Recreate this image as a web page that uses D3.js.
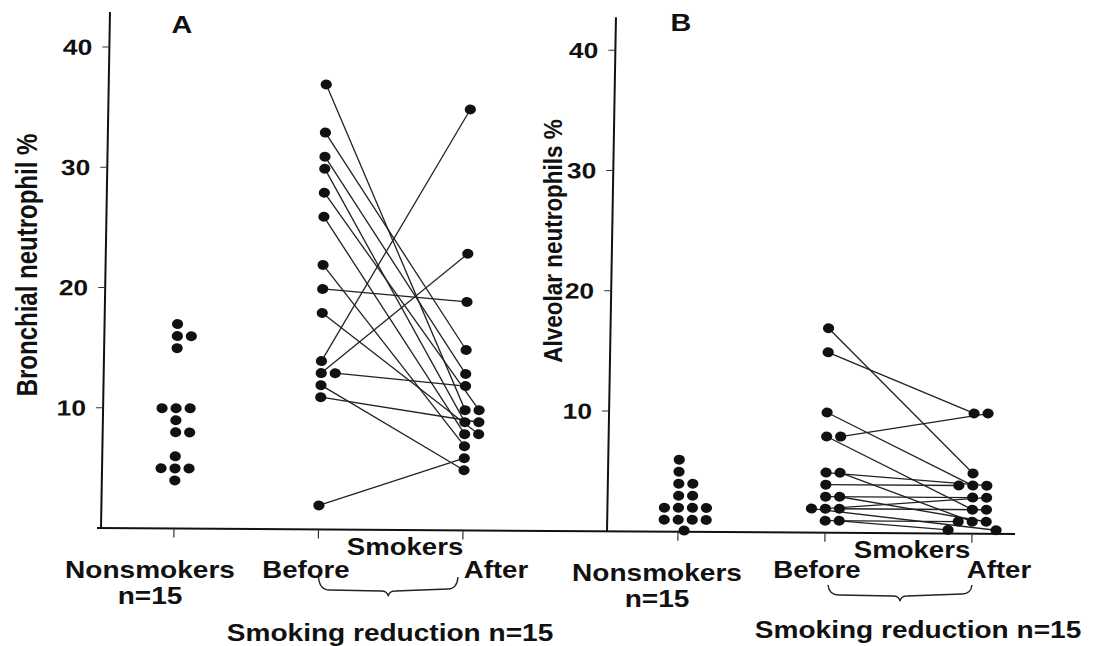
<!DOCTYPE html>
<html><head><meta charset="utf-8">
<script src="https://cdn.jsdelivr.net/npm/d3@7"></script>
<style>
body{margin:0;background:#fff}
text{font-family:"Liberation Sans",Arial,Helvetica,sans-serif;font-weight:bold;fill:#111}
</style>
</head><body>
<svg id="chart" width="1094" height="646"></svg>
<script>
// ---------------- data ----------------
const yTicks = [10, 20, 30, 40];
const groups = ["Nonsmokers", "Before", "After"];
// Panel A: bronchial neutrophil %
const nonsmokersA = [17, 16, 16, 15, 10, 10, 10, 9, 8, 8, 6, 5, 5, 5, 4];
const beforeA = [37, 33, 31, 30, 28, 26, 22, 20, 18, 14, 13, 13, 12, 11, 2];
const afterA  = [10, 15, 13, 9, 10, 8, 7, 19, 8, 35, 23, 12, 5, 9, 6];
// Panel B: alveolar neutrophils %
const nonsmokersB = [6, 5, 4, 4, 3, 3, 2, 2, 2, 2, 1, 1, 1, 1, 0.1];
const beforeB = [17, 15, 10, 8, 8, 5, 5, 4, 3, 3, 2, 2, 2, 1, 1];
const afterB  = [5, 10, 4, 2, 10, 4, 1, 4, 3, 1, 3, 2, 0.3, 1, 0.3];

const panelLetters = ["A", "B"];
const yTitles = ["Bronchial neutrophil %", "Alveolar neutrophils %"];
const nLabel = "n=15";
const smokersLabel = "Smokers";
const reductionLabel = "Smoking reduction n=15";

// ---------------- setup ----------------
const svg = d3.select("#chart");
svg.append("rect").attr("width", 1094).attr("height", 646).attr("fill", "#fff");

// the scanned figure is slightly skewed; reproduce that
const plot = svg.append("g").attr("transform", "matrix(1,0.0065,-0.0174,1,9.19,-0.63)");
const flat = svg.append("g");

const y = d3.scaleLinear().domain([0, 40]).range([528, 47]);
const xA = d3.scalePoint().domain(groups).range([174, 463]);
const xB = d3.scalePoint().domain(groups).range([678, 972]);

function stretchedText(g, x, yy, str, size, anchor, sx) {
  return g.append("g").attr("transform", `translate(${x},${yy}) scale(${sx},1)`)
    .append("text").attr("text-anchor", anchor).attr("font-size", size).text(str);
}

function swarm(values, sx, sy) {
  const order = d3.range(values.length).sort((a, b) => values[b] - values[a] || a - b);
  const placed = [], off = new Array(values.length);
  for (const i of order) {
    const yi = y(values[i]);
    const near = placed.filter(p => Math.abs(p.y - yi) < sy);
    const cands = [0];
    for (const p of near) {
      const dx = sx * Math.sqrt(1 - ((p.y - yi) / sy) ** 2);
      cands.push(p.x + dx, p.x - dx);
    }
    cands.sort((a, b) => Math.abs(a) - Math.abs(b) || b - a);
    const x = cands.find(c => near.every(p => ((c - p.x) / sx) ** 2 + ((p.y - yi) / sy) ** 2 >= 0.999));
    off[i] = x;
    placed.push({x, y: yi});
  }
  return off;
}

function panel(cfg) {
  const {x, axisX, axisTop, non, before, after} = cfg;
  const g = plot.append("g");
  // y axis
  g.append("line").attr("x1", axisX).attr("x2", axisX).attr("y1", axisTop).attr("y2", y(0))
    .attr("stroke", "#111").attr("stroke-width", 2);
  const t = g.selectAll(".yt").data(yTicks).join("g").attr("transform", d => `translate(0,${y(d)})`);
  t.append("line").attr("x1", axisX - 7).attr("x2", axisX).attr("stroke", "#333").attr("stroke-width", 1);
  t.each(function(d) {
    stretchedText(d3.select(this), axisX - 17, 8, d, 22, "end", 1.2);
  });
  // x ticks
  g.selectAll(".xt").data(groups).join("line")
    .attr("x1", d => x(d)).attr("x2", d => x(d)).attr("y1", y(0)).attr("y2", y(0) + 9)
    .attr("stroke", "#333").attr("stroke-width", 1.2);

  const sx = 14, sy = 12;
  const oN = swarm(non, sx, sy), oB = swarm(before, sx, sy), oA = swarm(after, sx, sy);
  const bx = x("Before"), ax = x("After"), nx = x("Nonsmokers");
  const pairs = before.map((v, i) => ({
    x1: bx + oB[i], y1: y(v), x2: ax + oA[i], y2: y(after[i])
  }));
  g.selectAll(".pl").data(pairs).join("line")
    .attr("x1", d => d.x1).attr("y1", d => d.y1).attr("x2", d => d.x2).attr("y2", d => d.y2)
    .attr("stroke", "#222").attr("stroke-width", 1.3);
  const dots = [
    ...non.map((v, i) => ({cx: nx + oN[i], cy: y(v)})),
    ...before.map((v, i) => ({cx: bx + oB[i], cy: y(v)})),
    ...after.map((v, i) => ({cx: ax + oA[i], cy: y(v)}))
  ];
  g.selectAll(".dot").data(dots).join("ellipse")
    .attr("cx", d => d.cx).attr("cy", d => d.cy).attr("rx", 5.6).attr("ry", 5)
    .attr("fill", "#111");
}

// shared x axis baseline
plot.append("line").attr("x1", 97).attr("x2", 1015).attr("y1", y(0)).attr("y2", y(0))
  .attr("stroke", "#111").attr("stroke-width", 2);

panel({x: xA, axisX: 101, axisTop: 12, non: nonsmokersA, before: beforeA, after: afterA});
panel({x: xB, axisX: 607, axisTop: 14, non: nonsmokersB, before: beforeB, after: afterB});

// ---------------- texts (in image coordinates) ----------------
stretchedText(flat, 182, 33, panelLetters[0], 24, "middle", 1.2);
stretchedText(flat, 681, 31, panelLetters[1], 24, "middle", 1.2);

flat.append("g").attr("transform", "translate(37,265) rotate(-90) scale(1,1.2)")
  .append("text").attr("text-anchor", "middle").attr("font-size", 24).text(yTitles[0]);
flat.append("g").attr("transform", "translate(562,241) rotate(-90) scale(1,1.15)")
  .append("text").attr("text-anchor", "middle").attr("font-size", 22.5).text(yTitles[1]);

const labelsA = {non: [150, 578], n: [150, 604], before: [306, 578], after: [496, 578], smokers: [405, 555], red: [390, 641]};
const labelsB = {non: [657, 581], n: [657, 607], before: [817, 578], after: [999, 578], smokers: [912, 558], red: [918, 638]};
[labelsA, labelsB].forEach(L => {
  stretchedText(flat, L.non[0], L.non[1], groups[0], 23, "middle", 1.22);
  stretchedText(flat, L.n[0], L.n[1], nLabel, 23, "middle", 1.22);
  stretchedText(flat, L.before[0], L.before[1], groups[1], 23, "middle", 1.2);
  stretchedText(flat, L.after[0], L.after[1], groups[2], 23, "middle", 1.2);
  stretchedText(flat, L.smokers[0], L.smokers[1], smokersLabel, 23, "middle", 1.2);
  stretchedText(flat, L.red[0], L.red[1], reductionLabel, 23, "middle", 1.22);
});

// braces under Before..After
function brace(x1, x2, top, mid) {
  const c = (x1 + x2) / 2;
  return `M${x1},${top} Q${x1 + 1},${mid} ${x1 + 11},${mid} L${c - 7},${mid + 1} Q${c - 1},${mid + 1} ${c},${mid + 6}` +
         ` Q${c + 1},${mid + 1} ${c + 7},${mid + 1} L${x2 - 10},${mid - 1} Q${x2 - 1},${mid - 1} ${x2},${top}`;
}
flat.append("path").attr("d", brace(xA("Before"), xA("After") - 5, 577, 590))
  .attr("fill", "none").attr("stroke", "#222").attr("stroke-width", 1.4);
flat.append("path").attr("d", brace(xB("Before") + 3, xB("After"), 585, 595))
  .attr("fill", "none").attr("stroke", "#222").attr("stroke-width", 1.4);
</script>
</body></html>
